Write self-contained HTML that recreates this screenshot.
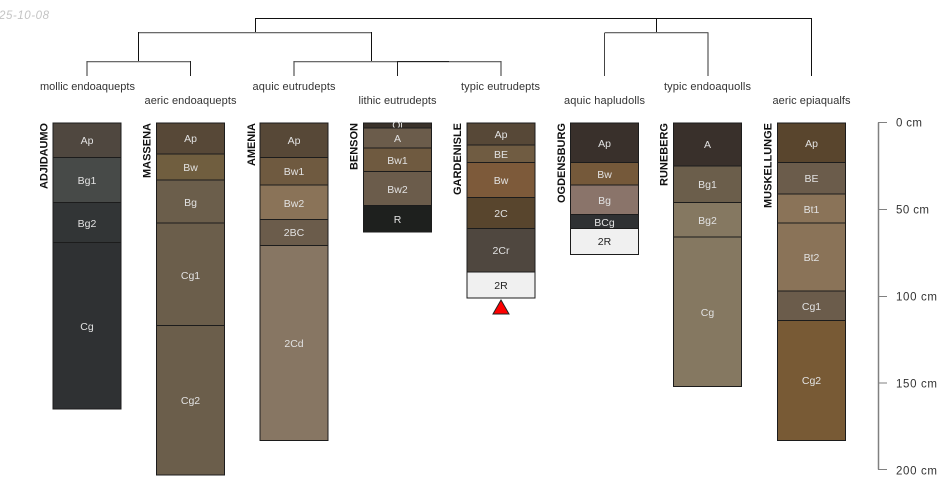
<!DOCTYPE html>
<html><head><meta charset="utf-8"><style>
html,body{margin:0;padding:0;background:#fff}
svg{display:block}
text{font-family:"Liberation Sans",Arial,sans-serif}
.h text{font-size:10.5px;fill:#e2e2e2;text-anchor:middle}
.h rect{stroke:#1c1c1c;stroke-width:1}
.l{font-size:11px;fill:#333;text-anchor:middle}
.n{font-size:11px;font-weight:bold;fill:#111;text-anchor:end}
.a{font-size:11.5px;fill:#333}
</style></head><body>
<svg width="950" height="500" viewBox="0 0 950 500" xmlns="http://www.w3.org/2000/svg">
<rect width="950" height="500" fill="#fff"/>
<text x="49" y="19" text-anchor="end" font-size="11.5" font-style="italic" fill="#c4c4c4" textLength="50" lengthAdjust="spacing">25-10-08</text>

<g fill="none" stroke-width="1">
<path d="M255.5 32V18.5H811.5V76M656.5 18.5V32" stroke="#111"/>
<path d="M138.5 32.7H371.5M604.5 32.7H708.5" stroke="#555" stroke-width="1.2"/>
<path d="M138.5 32V61M371.5 32V61" stroke="#111"/>
<path d="M604.5 33V76" stroke="#444"/>
<path d="M708 33V76" stroke="#555" stroke-width="1.2"/>
<path d="M87 61.7H190.5M294 61.7H501.5" stroke="#555" stroke-width="1.2"/>
<path d="M87 61V76M294 61V76M501 61V76" stroke="#555" stroke-width="1.2"/>
<path d="M190.5 61V76M397.5 61V76M397 61.5H449" stroke="#222"/>
</g>

<text class="l" x="87.5" y="90" textLength="95" lengthAdjust="spacing">mollic endoaquepts</text>
<text class="l" x="190.5" y="104" textLength="92" lengthAdjust="spacing">aeric endoaquepts</text>
<text class="l" x="294" y="90" textLength="83" lengthAdjust="spacing">aquic eutrudepts</text>
<text class="l" x="397.5" y="104" textLength="78" lengthAdjust="spacing">lithic eutrudepts</text>
<text class="l" x="500.5" y="90" textLength="79" lengthAdjust="spacing">typic eutrudepts</text>
<text class="l" x="604.5" y="104" textLength="81" lengthAdjust="spacing">aquic hapludolls</text>
<text class="l" x="707.5" y="90" textLength="87" lengthAdjust="spacing">typic endoaquolls</text>
<text class="l" x="811.5" y="104" textLength="78" lengthAdjust="spacing">aeric epiaqualfs</text>

<g class="h">
<rect x="53" y="123" width="68" height="34.5" fill="#4f473f"/><text x="87" y="144">Ap</text>
<rect x="53" y="157.5" width="68" height="45" fill="#474a48"/><text x="87" y="184">Bg1</text>
<rect x="53" y="202.5" width="68" height="40" fill="#323536"/><text x="87" y="227">Bg2</text>
<rect x="53" y="242.5" width="68" height="166.5" fill="#2f3133"/><text x="87" y="330">Cg</text>
</g>
<g class="h">
<rect x="156.5" y="123" width="68" height="31" fill="#574837"/><text x="190.5" y="142">Ap</text>
<rect x="156.5" y="154" width="68" height="26" fill="#705e3f"/><text x="190.5" y="171">Bw</text>
<rect x="156.5" y="180" width="68" height="43" fill="#6b5e4b"/><text x="190.5" y="206">Bg</text>
<rect x="156.5" y="223" width="68" height="102.5" fill="#6b5e4b"/><text x="190.5" y="279">Cg1</text>
<rect x="156.5" y="325.5" width="68" height="149.5" fill="#6b5e4b"/><text x="190.5" y="404">Cg2</text>
</g>
<g class="h">
<rect x="260" y="123" width="68" height="34.5" fill="#574837"/><text x="294" y="144">Ap</text>
<rect x="260" y="157.5" width="68" height="27.5" fill="#6f5a40"/><text x="294" y="175">Bw1</text>
<rect x="260" y="185" width="68" height="34.5" fill="#8a7358"/><text x="294" y="207">Bw2</text>
<rect x="260" y="219.5" width="68" height="26" fill="#6b5c4b"/><text x="294" y="236">2BC</text>
<rect x="260" y="245.5" width="68" height="195" fill="#877663"/><text x="294" y="347">2Cd</text>
</g>
<g class="h">
<rect x="363.5" y="123" width="68" height="5" fill="#3a322a"/><text x="397.5" y="128.5">Oi</text>
<rect x="363.5" y="128" width="68" height="20" fill="#6b5c4b"/><text x="397.5" y="142">A</text>
<rect x="363.5" y="148" width="68" height="23.5" fill="#6f5a40"/><text x="397.5" y="164">Bw1</text>
<rect x="363.5" y="171.5" width="68" height="34" fill="#6b5c4b"/><text x="397.5" y="193">Bw2</text>
<rect x="363.5" y="205.5" width="68" height="26.5" fill="#1e201e"/><text x="397.5" y="223">R</text>
</g>
<g class="h">
<rect x="467" y="123" width="68" height="22" fill="#574837"/><text x="501" y="138">Ap</text>
<rect x="467" y="145" width="68" height="17.5" fill="#705c42"/><text x="501" y="158">BE</text>
<rect x="467" y="162.5" width="68" height="35" fill="#7d5a3a"/><text x="501" y="184">Bw</text>
<rect x="467" y="197.5" width="68" height="31" fill="#58452d"/><text x="501" y="217">2C</text>
<rect x="467" y="228.5" width="68" height="43.5" fill="#4f473f"/><text x="501" y="254">2Cr</text>
<rect x="467" y="272" width="68" height="26" fill="#f0f0f0" stroke="#444"/><text x="501" y="289" style="fill:#222">2R</text>
</g>
<polygon points="493,314 509,314 501,300" fill="#f00" stroke="#222" stroke-width="1"/>
<g class="h">
<rect x="570.5" y="123" width="68" height="39.5" fill="#39302b"/><text x="604.5" y="147">Ap</text>
<rect x="570.5" y="162.5" width="68" height="22.5" fill="#75593a"/><text x="604.5" y="178">Bw</text>
<rect x="570.5" y="185" width="68" height="29.5" fill="#8a746a"/><text x="604.5" y="204">Bg</text>
<rect x="570.5" y="214.5" width="68" height="14" fill="#2f3133"/><text x="604.5" y="226">BCg</text>
<rect x="570.5" y="228.5" width="68" height="26" fill="#f0f0f0" stroke="#444"/><text x="604.5" y="245" style="fill:#222">2R</text>
</g>
<g class="h">
<rect x="673.5" y="123" width="68" height="43" fill="#39302b"/><text x="707.5" y="148">A</text>
<rect x="673.5" y="166" width="68" height="36.5" fill="#6b5e4b"/><text x="707.5" y="188">Bg1</text>
<rect x="673.5" y="202.5" width="68" height="34.5" fill="#857861"/><text x="707.5" y="224">Bg2</text>
<rect x="673.5" y="237" width="68" height="149.5" fill="#857861"/><text x="707.5" y="316">Cg</text>
</g>
<g class="h">
<rect x="777.5" y="123" width="68" height="39.5" fill="#59452d"/><text x="811.5" y="147">Ap</text>
<rect x="777.5" y="162.5" width="68" height="31.5" fill="#6b5c4b"/><text x="811.5" y="182">BE</text>
<rect x="777.5" y="194" width="68" height="29" fill="#8a7358"/><text x="811.5" y="213">Bt1</text>
<rect x="777.5" y="223" width="68" height="68" fill="#8a7358"/><text x="811.5" y="261">Bt2</text>
<rect x="777.5" y="291" width="68" height="29.5" fill="#6b5c4b"/><text x="811.5" y="310">Cg1</text>
<rect x="777.5" y="320.5" width="68" height="120" fill="#785a35"/><text x="811.5" y="384">Cg2</text>
</g>

<text class="n" transform="translate(47.5,123) rotate(-90)" textLength="66" lengthAdjust="spacing">ADJIDAUMO</text>
<text class="n" transform="translate(150.5,123) rotate(-90)" textLength="55" lengthAdjust="spacing">MASSENA</text>
<text class="n" transform="translate(255,123) rotate(-90)" textLength="43" lengthAdjust="spacing">AMENIA</text>
<text class="n" transform="translate(357.5,123) rotate(-90)" textLength="47" lengthAdjust="spacing">BENSON</text>
<text class="n" transform="translate(461,123) rotate(-90)" textLength="72" lengthAdjust="spacing">GARDENISLE</text>
<text class="n" transform="translate(565,123) rotate(-90)" textLength="80" lengthAdjust="spacing">OGDENSBURG</text>
<text class="n" transform="translate(667.5,123) rotate(-90)" textLength="63" lengthAdjust="spacing">RUNEBERG</text>
<text class="n" transform="translate(771.5,123) rotate(-90)" textLength="85" lengthAdjust="spacing">MUSKELLUNGE</text>

<path d="M887 122.5H878.5V469.5H887M878.5 209.5H887M878.5 296.5H887M878.5 383H887" fill="none" stroke="#808080" stroke-width="1"/>
<path d="M878.5 122.5V469.5" fill="none" stroke="#808080" stroke-width="1.5"/>
<text class="a" x="896" y="126.5" textLength="26" lengthAdjust="spacing">0 cm</text>
<text class="a" x="896" y="213.5" textLength="33" lengthAdjust="spacing">50 cm</text>
<text class="a" x="896" y="300.5" textLength="41" lengthAdjust="spacing">100 cm</text>
<text class="a" x="896" y="387.5" textLength="41" lengthAdjust="spacing">150 cm</text>
<text class="a" x="896" y="474.5" textLength="41" lengthAdjust="spacing">200 cm</text>
</svg>
</body></html>
